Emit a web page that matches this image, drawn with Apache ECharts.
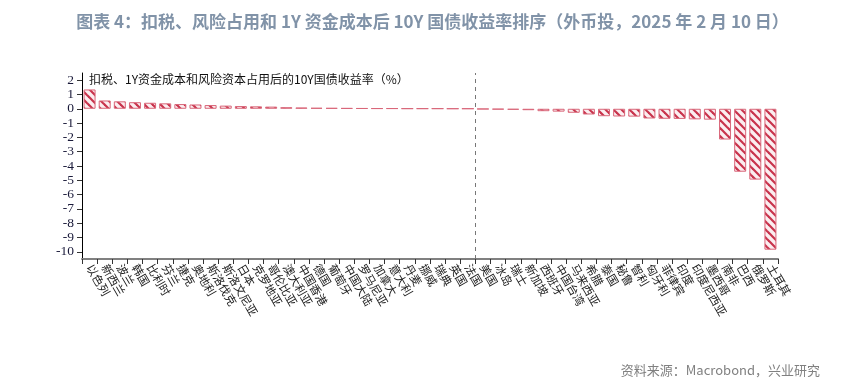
<!DOCTYPE html>
<html>
<head>
<meta charset="utf-8">
<script src="https://cdn.jsdelivr.net/npm/echarts@6/dist/echarts.min.js"></script>
<style>
html,body{margin:0;padding:0;background:#fff;}
#c{width:865px;height:384px;}
</style>
</head>
<body>
<div id="c"></div>
<script>
var categories = ["以色列","新西兰","波兰","韩国","比利时","芬兰","捷克","奥地利","斯洛伐克","斯洛文尼亚","日本","克罗地亚","哥伦比亚","澳大利亚","中国香港","德国","葡萄牙","中国大陆","罗马尼亚","加拿大","意大利","丹麦","挪威","瑞典","英国","法国",
"美国","冰岛","瑞士","新加坡","西班牙","中国台湾","马来西亚","希腊","泰国","秘鲁","智利","匈牙利","菲律宾","印度","印度尼西亚","墨西哥","南非","巴西","俄罗斯","土耳其"];
var values = [1.35,0.58,0.52,0.46,0.42,0.38,0.33,0.3,0.26,0.22,0.19,0.17,0.15,0.11,0.09,0.07,0.06,0.05,0.04,0.03,0.03,0.02,0.02,0.02,0.01,0.01,
-0.03,-0.05,-0.07,-0.1,-0.17,-0.2,-0.28,-0.4,-0.52,-0.54,-0.55,-0.68,-0.7,-0.71,-0.74,-0.76,-2.15,-4.4,-4.95,-9.85];
var yTicks = [-10,-9,-8,-7,-6,-5,-4,-3,-2,-1,0,1,2];
var splitIndex = [26];
var titleText = "图表 4：扣税、风险占用和 1Y 资金成本后 10Y 国债收益率排序（外币投，2025 年 2 月 10 日）";
var seriesName = "扣税、1Y资金成本和风险资本占用后的10Y国债收益率（%）";
var sourceText = "资料来源：Macrobond，兴业研究";

function makePattern(){
  var s = 8;
  var cv = document.createElement('canvas');
  cv.width = s; cv.height = s;
  var ctx = cv.getContext('2d');
  ctx.fillStyle = '#fbeef0';
  ctx.fillRect(0,0,s,s);
  ctx.strokeStyle = '#c8334c';
  ctx.lineWidth = 2.2;
  [-s,0,s].forEach(function(c){
    ctx.beginPath();
    ctx.moveTo(0-1, c-1);
    ctx.lineTo(s+1, c+s+1);
    ctx.stroke();
  });
  return cv;
}

var chart = echarts.init(document.getElementById('c'), null, {renderer:'canvas'});
var option = {
  animation:false,
  backgroundColor:'#fff',
  title:[
    {text:titleText, left:'center', top:8, textStyle:{fontFamily:'Noto Sans CJK SC', fontSize:17, fontWeight:'bold', color:'#8193a8'}},
    {text:sourceText, right:40, top:359, textStyle:{fontFamily:'Noto Sans CJK SC', fontSize:13, fontWeight:'normal', color:'#808080'}},
    {text:seriesName, left:84, top:68, textStyle:{fontFamily:'Noto Sans CJK SC', fontSize:12, fontWeight:'normal', color:'#111'}}
  ],
  grid:{left:82, right:87, top:73, bottom:125, containLabel:false},
  xAxis:[
    {type:'category', data:categories, position:'bottom',
     axisLine:{show:true, onZero:false, lineStyle:{color:'#808080', width:2}},
     axisTick:{show:true, length:5, lineStyle:{color:'#333', width:1}},
     axisLabel:{interval:0, rotate:-60, fontSize:11.5, color:'#222', fontFamily:'Noto Sans CJK SC', margin:6}},
    {type:'value', min:0, max:categories.length, show:false}
  ],
  yAxis:{type:'value', min:-10.5, max:2.5,
    splitLine:{show:false},
    axisLine:{show:true, lineStyle:{color:'#000', width:1}},
    axisTick:{show:true, length:5, inside:false, customValues:yTicks, lineStyle:{color:'#333'}},
    axisLabel:{customValues:yTicks, fontSize:13.5, color:'#1a1a3a', fontFamily:'Liberation Serif', margin:8}
  },
  series:[
    {type:'bar', name:seriesName, data:values, xAxisIndex:0, barWidth:12,
     itemStyle:{color:{image:makePattern(), repeat:'repeat'}, borderColor:'#d9677a', borderWidth:1}},
    {type:'line', xAxisIndex:1, data:[], symbol:'none',
     markLine:{silent:true, symbol:'none', label:{show:false},
       lineStyle:{color:'#777', type:[4,4], width:1},
       data:splitIndex.map(function(v){return {xAxis:v};})}}
  ]
};
chart.setOption(option);
</script>
</body>
</html>
